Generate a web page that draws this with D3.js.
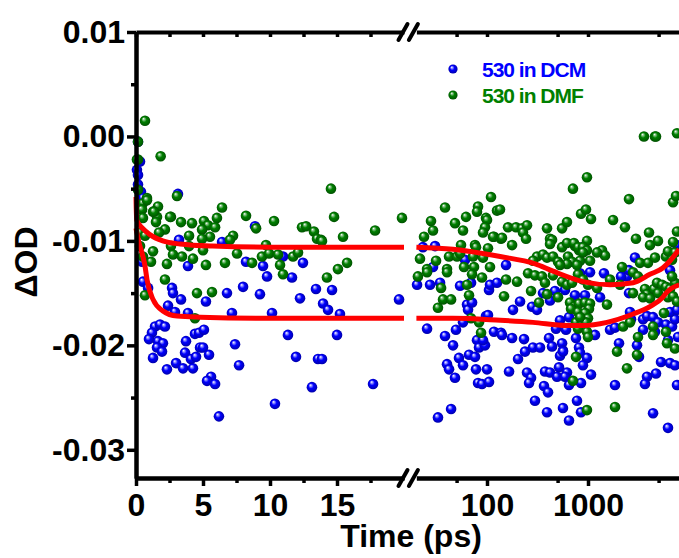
<!DOCTYPE html>
<html>
<head>
<meta charset="utf-8">
<script src="https://cdn.jsdelivr.net/npm/d3@7"></script>
<style>
  body { margin: 0; background: #fff; }
  svg text { font-family: "Liberation Sans", Arial, sans-serif; font-weight: bold; }
</style>
</head>
<body>
<svg id="chart" width="679" height="558"></svg>
<script>
// time (ps), dOD
const dcmPoints = [
  [0.15,-0.0005],[0.30,-0.0024],[0.07,-0.0032],[0.15,-0.0037],[0.15,-0.0046],[0.37,-0.0053],[0.52,-0.0059],
  [3.13,-0.0055],[8.88,-0.0086],[6.42,-0.0101],[3.21,-0.0099],[10.97,-0.0115],[8.21,-0.0120],[9.48,-0.0124],
  [12.46,-0.0121],[3.88,-0.0124],[0.45,-0.0120],[0.52,-0.0139],[0.90,-0.0145],[2.69,-0.0145],[2.76,-0.0150],
  [3.36,-0.0156],[2.39,-0.0162],[3.88,-0.0169],[2.91,-0.0168],[5.22,-0.0158],[6.79,-0.0150],[7.99,-0.0144],
  [9.25,-0.0151],[9.78,-0.0134],[11.64,-0.0135],[12.24,-0.0155],[13.43,-0.0146],[7.16,-0.0169],[10.15,-0.0169],
  [1.42,-0.0182],[1.79,-0.0180],[2.16,-0.0182],[1.19,-0.0188],[0.97,-0.0194],[1.64,-0.0196],[2.01,-0.0198],
  [1.57,-0.0202],[1.94,-0.0206],[1.27,-0.0212],[2.31,-0.0223],[2.99,-0.0217],[3.51,-0.0222],[3.66,-0.0207],
  [3.73,-0.0196],[4.40,-0.0189],[4.70,-0.0188],[5.07,-0.0185],[4.78,-0.0202],[5.00,-0.0202],[4.10,-0.0213],
  [4.48,-0.0211],[4.25,-0.0222],[5.45,-0.0209],[5.60,-0.0230],[5.30,-0.0234],[5.90,-0.0237],[6.19,-0.0268],
  [7.39,-0.0199],[7.69,-0.0219],[11.34,-0.0190],[11.94,-0.0211],[10.37,-0.0256],[13.13,-0.0240],[13.58,-0.0213],
  [14.63,-0.0147],[13.96,-0.0160],[14.33,-0.0166],[15.22,-0.0170],[15.00,-0.0190],[13.88,-0.0213],[19.63,-0.0156],
  [17.69,-0.0237],
  [25.5,-0.0184],[27.3,-0.0142],[38.4,-0.0191],[49.3,-0.0185],[46.1,-0.0200],[40.2,-0.0218],[42.1,-0.0223],
  [48.2,-0.0231],[52.8,-0.0212],[57.9,-0.0219],[44.1,-0.0261],[32.7,-0.0269],[66.4,-0.0209],[76.1,-0.0211],
  [77.8,-0.0223],[100,-0.0223],[81.5,-0.0236],[89.2,-0.0237],[104.7,-0.0235],[79.6,-0.0195],[83.4,-0.0202],
  [95.5,-0.0200],[91.3,-0.0195],[117.3,-0.0187],[63.4,-0.0161],[64.9,-0.0166],[71.1,-0.0159],[57.9,-0.0178],
  [97.7,-0.0172],[102.3,-0.0171],[104.7,-0.0147],[107.1,-0.0142],[125.6,-0.0140],[69.5,-0.0140],[54.1,-0.0143],
  [34.3,-0.0140],[20.3,-0.0142],[23.2,-0.0106],[30.6,-0.0105],[60.6,-0.0118],[29.2,-0.0125],[137.6,-0.0188],
  [180.9,-0.0166],[212.4,-0.0158],[279.3,-0.0163],[312.6,-0.0166],[358.3,-0.0150],[420.7,-0.0157],[471.2,-0.0148],
  [591.7,-0.0147],[833.6,-0.0131],[1047,-0.0130],[1439,-0.0131],[2432,-0.0134],[2123,-0.0134],[743,-0.0152],
  [933,-0.0152],[1315,-0.0154],[2547,-0.0150],[528.5,-0.0176],[648.6,-0.0173],[482.2,-0.0184],[605.4,-0.0185],
  [140.8,-0.0190],[177.1,-0.0193],[232.5,-0.0194],[411.2,-0.0193],[553.4,-0.0198],[760.3,-0.0193],[1173,-0.0190],
  [1652,-0.0185],[1851,-0.0183],[2606,-0.0168],[2667,-0.0175],[3507,-0.0175],[3837,-0.0172],[4406,-0.0173],
  [4932,-0.0178],[5916,-0.0180],[6792,-0.0182],[7261,-0.0175],[6486,-0.0168],[7603,-0.0166],[237.9,-0.0206],
  [285.2,-0.0202],[335,-0.0202],[440.5,-0.0201],[565.1,-0.0205],[202.9,-0.0213],[814.6,-0.0202],[833.6,-0.0207],
  [977,-0.0212],[891.3,-0.0219],[528.5,-0.0210],[565.1,-0.0206],[165.3,-0.0225],[375.2,-0.0225],[420.7,-0.0226],
  [516.6,-0.0221],[619.4,-0.0226],[493.4,-0.0230],[591.7,-0.0230],[249.1,-0.0226],[273,-0.0231],[260.8,-0.0236],
  [366.7,-0.0239],[401.9,-0.0245],[648.6,-0.0238],[852.9,-0.0236],[1071,-0.0228],[298.5,-0.0253],[392.8,-0.0264],
  [565.1,-0.0260],[778,-0.0253],[648.6,-0.0272],[852.9,-0.0264],[1851,-0.0238],[3837,-0.0230],[4710,-0.0227],
  [3664,-0.0237],[5284,-0.0216],[6486,-0.0217],[7261,-0.0219],[2028,-0.0198],[3055,-0.0200],[3199,-0.0211],
  [3507,-0.0185],[4603,-0.0187],[6194,-0.0195],[4406,-0.0265],[6194,-0.0279],[7603,-0.0238],[7780,-0.0192],
  [154.3,-0.0123],[2918,-0.0116],[891,-0.0106],[7603,-0.0104],[2547,-0.0128],[6486,-0.0128]
];

const dmfPoints = [
  [0.67,0.0015],[1.84,-0.0019],[0.15,-0.0022],[0.07,-0.0022],[0.15,-0.0005],[3.06,-0.0057],[0.15,-0.0051],
  [0.82,-0.0059],[0.52,-0.0064],[1.64,-0.0067],[0.45,-0.0070],[1.27,-0.0072],[1.57,-0.0077],[2.61,-0.0077],
  [3.36,-0.0082],[4.18,-0.0083],[5.07,-0.0081],[6.04,-0.0078],[6.42,-0.0068],[5.37,-0.0085],[4.93,-0.0089],
  [2.16,-0.0089],[1.72,-0.0092],[3.96,-0.0095],[5.52,-0.0096],[7.24,-0.0095],[8.21,-0.0076],[8.96,-0.0088],
  [10.30,-0.0081],[12.39,-0.0087],[12.69,-0.0086],[13.28,-0.0091],[13.51,-0.0098],[2.61,-0.0105],[3.96,-0.0105],
  [1.27,-0.0110],[2.76,-0.0113],[3.43,-0.0115],[4.25,-0.0117],[5.00,-0.0109],[7.54,-0.0112],[9.70,-0.0104],
  [9.40,-0.0115],[9.93,-0.0112],[10.60,-0.0113],[11.72,-0.0115],[12.09,-0.0111],[8.66,-0.0121],[10.75,-0.0123],
  [6.64,-0.0121],[5.22,-0.0123],[2.31,-0.0122],[1.12,-0.0120],[0.30,-0.0105],[0.30,-0.0092],[0.67,-0.0095],
  [0.52,-0.0115],[0.52,-0.0078],[0.67,-0.0152],[2.16,-0.0137],[4.40,-0.0174],[4.55,-0.0150],[5.67,-0.0149],
  [10.97,-0.0132],[5.90,-0.0087],[2.54,-0.0077],[1.34,-0.0072],[1.49,-0.0082],[0.82,-0.0061],[13.81,-0.0099],
  [7.01,-0.0099],[4.93,-0.0098],[14.25,-0.0135],[14.55,-0.0050],[14.78,-0.0077],[15.45,-0.0096],[13.88,-0.0100],
  [15.75,-0.0121],[15.07,-0.0127],[17.84,-0.0090],[19.85,-0.0078],
  [23.8,-0.0096],[27.9,-0.0081],[29.2,-0.0090],[21.7,-0.0117],[31.3,-0.0119],[38.4,-0.0068],[48.2,-0.0083],
  [57.9,-0.0090],[62.0,-0.0077],[81.5,-0.0067],[79.6,-0.0072],[109.6,-0.0058],[97.7,-0.0078],[100,-0.0080],
  [95.5,-0.0087],[91.3,-0.0092],[125.6,-0.0071],[117.3,-0.0096],[55.3,-0.0104],[76.1,-0.0104],[77.8,-0.0106],
  [102.3,-0.0107],[42.1,-0.0115],[50.5,-0.0115],[54.1,-0.0112],[72.7,-0.0115],[91.3,-0.0116],[59.2,-0.0125],
  [74.4,-0.0125],[107.1,-0.0125],[40.2,-0.0127],[25.5,-0.0127],[32.7,-0.0164],[35.1,-0.0145],[36.7,-0.0156],
  [44.1,-0.0156],[69.5,-0.0174],[83.4,-0.0178],[87.3,-0.0188],[63.4,-0.0142],[66.4,-0.0152],[89.2,-0.0135],
  [71.1,-0.0132],[20.7,-0.0134],[25.5,-0.0130],[40.2,-0.0130],
  [114.7,-0.0096],[137.6,-0.0098],[161.5,-0.0087],[193.8,-0.0087],[222.4,-0.0088],[249.1,-0.0085],[227.2,-0.0092],
  [243.4,-0.0098],[140.8,-0.0097],[177.1,-0.0104],[134.5,-0.0070],[392.8,-0.0088],[553.4,-0.0088],[619.4,-0.0082],
  [709.6,-0.0050],[977,-0.0039],[852.9,-0.0074],[955,-0.0070],[1071,-0.0079],[420.7,-0.0098],[553.4,-0.0106],
  [619.4,-0.0102],[743,-0.0105],[977,-0.0100],[814.6,-0.0109],[1770,-0.0080],[2323,-0.0087],[2547,-0.0060],
  [2985,-0.0098],[4018,-0.0092],[4111,-0.0104],[4932,-0.0100],[3581,0.0000],[4603,0.0000],[4710,0.0000],
  [7603,0.0003],[6950,-0.0063],[7430,-0.0057],[7603,-0.0091],[6950,-0.0101],[440.5,-0.0099],[420.7,-0.0103],
  [726.1,-0.0102],[796,-0.0106],[891,-0.0106],[977,-0.0109],[1377,-0.0109],[1473,-0.0114],[1228,-0.0111],
  [312.6,-0.0115],[358.3,-0.0113],[285.2,-0.0119],[392.8,-0.0116],[450.2,-0.0115],[504.8,-0.0120],[633.9,-0.0115],
  [694.9,-0.0120],[833.6,-0.0119],[891.3,-0.0111],[1047,-0.0119],[778,-0.0123],[619.4,-0.0122],[528.5,-0.0123],
  [2173,-0.0125],[3273,-0.0121],[3926,-0.0121],[4603,-0.0116],[5916,-0.0115],[6194,-0.0110],[7261,-0.0111],
  [6792,-0.0118],
  [154.3,-0.0137],[198.3,-0.0139],[254.9,-0.0131],[298.5,-0.0133],[350.6,-0.0134],[375.2,-0.0140],[450.2,-0.0133],
  [553.4,-0.0139],[619.4,-0.0142],[694.9,-0.0140],[796.1,-0.0132],[891.3,-0.0137],[1000,-0.0142],[1228,-0.0145],
  [1652,-0.0137],[2075,-0.0142],[2793,-0.0130],[3126,-0.0134],[3664,-0.0146],[3837,-0.0151],[4498,-0.0146],
  [4820,-0.0140],[5408,-0.0142],[5916,-0.0144],[6486,-0.0146],[7261,-0.0140],[6792,-0.0134],[147.4,-0.0153],
  [273,-0.0148],[392.8,-0.0151],[504.8,-0.0154],[327.3,-0.0159],[663.7,-0.0159],[726.1,-0.0163],[814.6,-0.0160],
  [933.3,-0.0159],[1047,-0.0160],[1023,-0.0165],[679.1,-0.0165],[796.1,-0.0168],[933.3,-0.0169],[1000,-0.0174],
  [1542,-0.0161],[2793,-0.0150],[3507,-0.0154],[4111,-0.0155],[4932,-0.0150],[6194,-0.0154],[6950,-0.0153],
  [7603,-0.0158],[5649,-0.0169],[760.3,-0.0178],[872,-0.0178],[955,-0.0178],[796.1,-0.0184],[977,-0.0187],
  [1000,-0.0192],[833.6,-0.0173],[2223,-0.0182],[2606,-0.0178],[4406,-0.0182],[4406,-0.0190],[5916,-0.0187],
  [6053,-0.0198],[3126,-0.0192],[7261,-0.0203],[1938,-0.0206],[3055,-0.0209],[2432,-0.0222],[760.3,-0.0211],
  [709.6,-0.0234],[1851,-0.0259],[977,-0.0262]
];

const dcmFit = [
  [0,-0.0088],[0.25,-0.0103],[0.52,-0.0115],[0.67,-0.0124],[0.82,-0.0137],[1.27,-0.0156],[2.0,-0.0167],
  [3.06,-0.0172],[4.8,-0.0173],[10,-0.0174],[20,-0.0174],
  [46,-0.0174],[135,-0.0176],[285,-0.0178],[620,-0.0181],[890,-0.0181],[1540,-0.0178],[2800,-0.0170],
  [4100,-0.0163],[5500,-0.0154],[6050,-0.0149],[8000,-0.0142]
];
const dmfFit = [
  [0,-0.0058],[0.05,-0.0080],[0.5,-0.0088],[1.04,-0.0094],[2,-0.0100],[3.3,-0.0103],[5.7,-0.0105],
  [10,-0.0106],[20,-0.0106],
  [46,-0.0108],[135,-0.0115],[300,-0.0122],[450,-0.0129],[890,-0.0139],[1650,-0.0142],[2800,-0.0140],
  [4100,-0.0132],[5500,-0.0126],[6500,-0.0119],[8000,-0.0108]
];

const yTicks = [-0.03, -0.02, -0.01, 0.00, 0.01];
const yMinor = [-0.025, -0.015, -0.005, 0.005];
const linTicks = [0, 5, 10, 15];
const linMinor = [2.5, 7.5, 12.5, 17.5];
const logTicks = [100, 1000];
const logMinor = [50, 500, 5000];
const legendLabels = ['530 in DCM', '530 in DMF'];

const svg = d3.select('#chart');
const breakT = 20;

const xLin = d3.scaleLinear().domain([0, breakT]).range([136, 404]);
const xLog = d3.scaleLog().domain([breakT, 10000]).range([416.4, 689]);
const xPos = t => t < breakT ? xLin(t) : xLog(t);
const y = d3.scaleLinear().domain([-0.0327, 0.01]).range([478, 32]);

// sphere shading
const defs = svg.append('defs');
const sphere = (id, light, base, dark) => {
  const g = defs.append('radialGradient').attr('id', id)
    .attr('cx', '50%').attr('cy', '50%').attr('r', '55%')
    .attr('fx', '35%').attr('fy', '30%');
  g.append('stop').attr('offset', '0%').attr('stop-color', '#ffffff');
  g.append('stop').attr('offset', '18%').attr('stop-color', light);
  g.append('stop').attr('offset', '45%').attr('stop-color', base);
  g.append('stop').attr('offset', '100%').attr('stop-color', dark);
};
sphere('ballBlue', '#9a9aff', '#0000ff', '#0000a0');
sphere('ballGreen', '#8cc48c', '#008000', '#004c00');

defs.append('clipPath').attr('id', 'plotClip')
  .append('rect').attr('x', 130).attr('y', 32).attr('width', 560).attr('height', 446);

const plot = svg.append('g').attr('clip-path', 'url(#plotClip)');

plot.append('g').selectAll('circle').data(dcmPoints).enter().append('circle')
  .attr('cx', d => xPos(d[0])).attr('cy', d => y(d[1])).attr('r', 5.3)
  .attr('fill', 'url(#ballBlue)');

plot.append('g').selectAll('circle').data(dmfPoints).enter().append('circle')
  .attr('cx', d => xPos(d[0])).attr('cy', d => y(d[1])).attr('r', 5.3)
  .attr('fill', 'url(#ballGreen)');

// fit curves, drawn per axis segment
const lineLin = d3.line().x(d => xLin(d[0])).y(d => y(d[1])).curve(d3.curveMonotoneX);
const lineLog = d3.line().x(d => xLog(d[0])).y(d => y(d[1])).curve(d3.curveMonotoneX);
[dcmFit, dmfFit].forEach(fit => {
  plot.append('path').attr('d', lineLin(fit.filter(d => d[0] <= breakT)))
    .attr('fill', 'none').attr('stroke', '#ff0000').attr('stroke-width', 5);
  plot.append('path').attr('d', lineLog(fit.filter(d => d[0] >= breakT)))
    .attr('fill', 'none').attr('stroke', '#ff0000').attr('stroke-width', 5);
});

// axes
const styleAxis = (g, labels) => {
  g.select('.domain').attr('stroke-width', 4).attr('stroke', '#000');
  g.selectAll('.tick line').attr('stroke-width', 3.5).attr('stroke', '#000');
  g.selectAll('.tick text').attr('font-size', labels ? 32 : 0).attr('fill', '#000');
  if (!labels) g.selectAll('.tick text').remove();
};

const xBottom = 478, yLeft = 136;

svg.append('g').attr('transform', `translate(${yLeft},0)`)
  .call(d3.axisLeft(y).tickValues(yMinor).tickSize(5).tickSizeOuter(0).tickFormat(''))
  .call(g => styleAxis(g, false));
svg.append('g').attr('transform', `translate(${yLeft},0)`)
  .call(d3.axisLeft(y).tickValues(yTicks).tickSize(9).tickPadding(2).tickSizeOuter(0)
    .tickFormat(d => d.toFixed(2)))
  .call(g => styleAxis(g, true));

// bottom axis, linear part then log part
svg.append('g').attr('transform', `translate(0,${xBottom})`)
  .call(d3.axisBottom(xLin).tickValues(linMinor).tickSize(5).tickSizeOuter(0).tickFormat(''))
  .call(g => styleAxis(g, false));
svg.append('g').attr('transform', `translate(0,${xBottom})`)
  .call(d3.axisBottom(xLin).tickValues(linTicks).tickSize(8).tickPadding(7).tickSizeOuter(0)
    .tickFormat(d3.format('d')))
  .call(g => styleAxis(g, true));
svg.append('g').attr('transform', `translate(0,${xBottom})`)
  .call(d3.axisBottom(xLog).tickValues(logMinor).tickSize(5).tickSizeOuter(0).tickFormat(''))
  .call(g => styleAxis(g, false));
svg.append('g').attr('transform', `translate(0,${xBottom})`)
  .call(d3.axisBottom(xLog).tickValues(logTicks).tickSize(8).tickPadding(7).tickSizeOuter(0)
    .tickFormat(d3.format('d')))
  .call(g => styleAxis(g, true));

// top mirror axis, inward ticks
svg.append('g').attr('transform', `translate(0,${y(0.01)})`)
  .call(d3.axisTop(xLin).tickValues(linTicks.concat(linMinor)).tickSize(-5).tickSizeOuter(0).tickFormat(''))
  .call(g => styleAxis(g, false));
svg.append('g').attr('transform', `translate(0,${y(0.01)})`)
  .call(d3.axisTop(xLog).tickValues(logTicks.concat(logMinor)).tickSize(-5).tickSizeOuter(0).tickFormat(''))
  .call(g => styleAxis(g, false));

// axis break marks
[y(0.01), xBottom].forEach(yy => {
  [xLin(breakT) - 1, xLog(breakT) - 3].forEach(xx => {
    svg.append('line')
      .attr('x1', xx - 4.5).attr('y1', yy + 8).attr('x2', xx + 4.5).attr('y2', yy - 8)
      .attr('stroke', '#000').attr('stroke-width', 4).attr('stroke-linecap', 'round');
  });
});

// axis titles
svg.append('text')
  .attr('x', 411).attr('y', 547)
  .attr('text-anchor', 'middle').attr('font-size', 32).attr('fill', '#000')
  .text('Time (ps)');

svg.append('text')
  .attr('transform', 'translate(37,262) rotate(-90)')
  .attr('text-anchor', 'middle').attr('font-size', 32).attr('fill', '#000')
  .text('ΔOD');

// legend
const legendColours = ['#0000ff', '#008000'];
const legendBalls = ['url(#ballBlue)', 'url(#ballGreen)'];
const legend = svg.append('g').attr('transform', 'translate(453,69)');
legendLabels.forEach((label, i) => {
  legend.append('circle').attr('cx', 0).attr('cy', i * 26).attr('r', 4.6).attr('fill', legendBalls[i]);
  legend.append('text')
    .attr('x', 29).attr('y', i * 26 + 8)
    .attr('font-size', 21).attr('letter-spacing', -1)
    .attr('fill', legendColours[i])
    .text(label);
});
</script>
</body>
</html>
